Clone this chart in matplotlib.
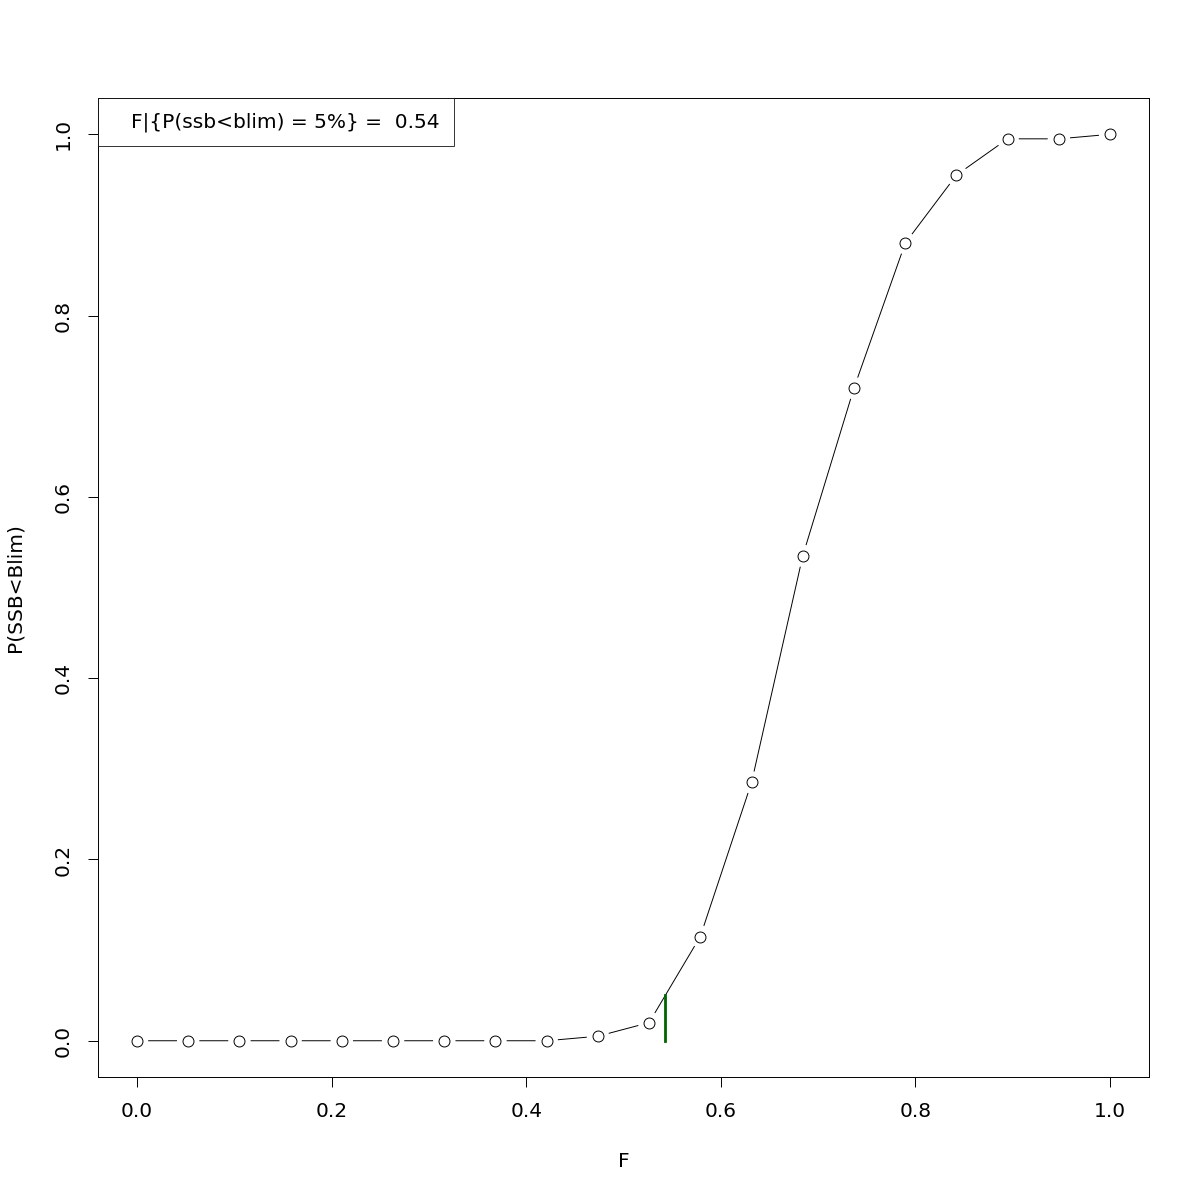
import matplotlib
matplotlib.use("Agg")
import matplotlib.pyplot as plt

# data
f_vals = [0.0, 0.0526, 0.1053, 0.1579, 0.2105, 0.2632, 0.3158, 0.3684, 0.4211, 0.4737,
          0.5263, 0.5789, 0.6316, 0.6842, 0.7368, 0.7895, 0.8421, 0.8947, 0.9474, 1.0]
p_vals = [0.0, 0.0, 0.0, 0.0, 0.0, 0.0, 0.0, 0.0, 0.0, 0.005,
          0.02, 0.115, 0.285, 0.535, 0.72, 0.88, 0.955, 0.995, 0.995, 1.0]
f_lim = 0.5427
p_target = 0.05
legend_text = "F|{P(ssb<blim) = 5%} =  0.54"

fig = plt.figure(figsize=(12, 12), dpi=100)
ax = fig.add_axes([0.0817, 0.1025, 0.8758, 0.8158])

# type="b": line, then white halo, then open circles
ax.plot(f_vals, p_vals, color="black", lw=0.7, zorder=1)
ax.scatter(f_vals, p_vals, s=260, color="white", edgecolors="none", zorder=2)
ax.scatter(f_vals, p_vals, s=62, facecolors="white", edgecolors="black", linewidths=0.7, zorder=3)

ax.plot([f_lim, f_lim], [0, p_target], color="darkgreen", lw=2, zorder=4)

ax.set_xlim(-0.04, 1.04)
ax.set_ylim(-0.04, 1.04)
ax.set_xticks([0.0, 0.2, 0.4, 0.6, 0.8, 1.0])
ax.set_yticks([0.0, 0.2, 0.4, 0.6, 0.8, 1.0])
ax.set_xticklabels(["0.0", "0.2", "0.4", "0.6", "0.8", "1.0"])
ax.set_yticklabels(["0.0", "0.2", "0.4", "0.6", "0.8", "1.0"], rotation=90, va="center")
ax.tick_params(labelsize=14.5, length=7, width=0.7, pad=11)
for s in ax.spines.values():
    s.set_linewidth(0.7)

ax.set_xlabel("F", fontsize=14.5, labelpad=22)
ax.set_ylabel("P(SSB<Blim)", fontsize=14.5, labelpad=21)

leg = ax.legend([plt.Line2D([], [], lw=0)], [legend_text], loc="upper left",
                fontsize=14.5, frameon=True, fancybox=False, borderaxespad=0,
                handlelength=0.6, handletextpad=0.35, borderpad=0.7)
leg.get_frame().set_edgecolor("black")
leg.get_frame().set_linewidth(0.7)

fig.savefig("out.png", dpi=100)
